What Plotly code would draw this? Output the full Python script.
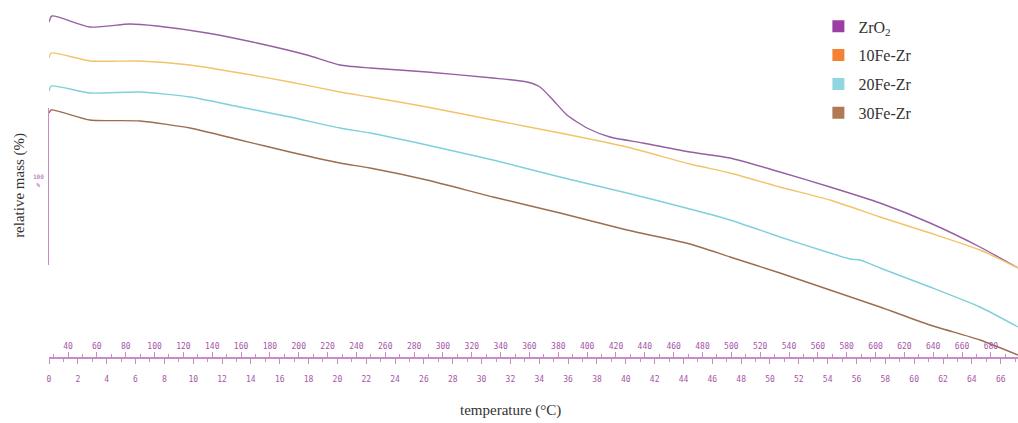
import plotly.graph_objects as go

# ---------------- data (time in min, relative mass in offset % units) ----------------
t_zro2 = [0, 0.2, 2.84, 5.62, 7.49, 10.96, 14.42, 17.89, 20.18, 22.26, 26.21, 30.79, 33.15,
          34.05, 34.95, 35.92, 37.31, 38.90, 41.19, 44.45, 47.23, 50.69, 54.16, 57.63, 61.10, 64.56, 67.2]
m_zro2 = [33.5, 34.1, 33.0, 33.3, 33.1, 32.4, 31.4, 30.2, 29.2, 28.9, 28.5, 27.9, 27.5,
          27.0, 25.7, 24.2, 22.9, 22.0, 21.4, 20.5, 19.9, 18.5, 17.0, 15.4, 13.4, 11.0, 8.9]

t_10fe = [0, 0.15, 2.84, 6.31, 9.78, 13.25, 16.71, 20.18, 22.26, 26.21, 30.79, 35.44, 40.08,
          44.45, 47.23, 50.69, 54.16, 57.63, 61.10, 64.56, 67.2]
m_10fe = [29.9, 30.4, 29.6, 29.6, 29.2, 28.4, 27.5, 26.5, 26.0, 25.0, 23.7, 22.4, 21.0,
          19.3, 18.4, 17.0, 15.7, 14.0, 12.4, 10.7, 8.9]

t_20fe = [0, 0.15, 2.84, 6.31, 9.78, 13.25, 16.71, 20.18, 22.26, 26.21, 30.79, 35.44, 40.08,
          44.45, 47.23, 50.69, 54.16, 55.55, 56.24, 57.63, 61.10, 64.56, 67.2]
m_20fe = [26.6, 27.1, 26.4, 26.5, 26.0, 25.0, 24.0, 22.9, 22.4, 21.2, 19.7, 18.0, 16.4,
          14.8, 13.7, 12.0, 10.4, 9.8, 9.7, 8.9, 7.0, 5.0, 3.0]

t_30fe = [0, 0.15, 2.84, 6.31, 9.78, 13.25, 16.71, 20.18, 22.26, 26.21, 30.79, 35.44, 40.08,
          44.45, 47.23, 50.69, 54.16, 57.63, 61.10, 64.56, 67.2]
m_30fe = [24.4, 24.7, 23.7, 23.6, 22.9, 21.7, 20.5, 19.4, 18.9, 17.7, 16.0, 14.4, 12.7,
          11.3, 10.0, 8.4, 6.7, 5.0, 3.2, 1.7, 0.2]

names = ["ZrO<sub>2</sub>", "10Fe-Zr", "20Fe-Zr", "30Fe-Zr"]
line_colors = ["#9560a3", "#f2c46a", "#7fd0da", "#9c6d50"]
legend_colors = ["#9b3fa2", "#f58233", "#92d5e2", "#b07a52"]

time_ticks = list(range(0, 67, 2))
temp_ticks = list(range(40, 681, 20))
T0 = 26.8       # °C at t = 0
RATE = 10.0     # °C / min
T_MAX = 67.2    # min shown

series = [(t_zro2, m_zro2), (t_10fe, m_10fe), (t_20fe, m_20fe), (t_30fe, m_30fe)]

fig = go.Figure()
# helper traces so that the temperature axis and scale bar axis are drawn
fig.add_trace(go.Scatter(x=[None], y=[None], xaxis="x", yaxis="y2", showlegend=False))
fig.add_trace(go.Scatter(x=[None], y=[None], xaxis="x2", yaxis="y", showlegend=False))
for (tx, my), c in zip(series, line_colors):
    fig.add_trace(go.Scatter(x=tx, y=my, mode="lines", line=dict(color=c, width=1.4, shape="spline", smoothing=0.6),
                             showlegend=False, hoverinfo="skip"))
for i, (n, c) in enumerate(zip(names, legend_colors)):
    fig.add_trace(go.Scatter(x=[None], y=[None], mode="markers", name=n, legendgroup=str(i),
                             marker=dict(symbol="square", size=12, color=c)))

axis_col = "#c98cc4"
lab_col = "#a555a8"
tick_font = dict(family="DejaVu Sans Mono", size=8, color=lab_col)

fig.update_layout(
    width=1018, height=423,
    margin=dict(l=49, r=0, t=8, b=66),
    paper_bgcolor="white", plot_bgcolor="rgba(0,0,0,0)",
    showlegend=True,
    legend=dict(x=0.794, y=0.996, xanchor="left", yanchor="top", tracegroupgap=5,
                font=dict(family="Liberation Serif", size=16, color="#333333"),
                bgcolor="rgba(0,0,0,0)"),
    xaxis=dict(range=[0, T_MAX], tickvals=time_ticks, ticks="outside", ticklen=5, tickcolor=axis_col,
               showline=True, linecolor=axis_col, linewidth=1.5, showgrid=False, zeroline=False,
               tickfont=tick_font, ticklabelstandoff=9, automargin=False,
               minor=dict(dtick=1, ticks="outside", ticklen=3, tickcolor=axis_col)),
    xaxis2=dict(overlaying="x", side="bottom", anchor="y",
                range=[T0, T0 + RATE * T_MAX], tickvals=temp_ticks, ticks="inside", ticklen=5,
                tickcolor=axis_col, ticklabelposition="inside", showline=False, showgrid=False,
                zeroline=False, tickfont=tick_font, automargin=False,
                minor=dict(dtick=10, ticks="inside", ticklen=3, tickcolor=axis_col)),
    yaxis=dict(range=[0, 34.9], visible=False, automargin=False),
    yaxis2=dict(domain=[0.264, 0.713], anchor="x", range=[0, 1], tickvals=[0, 1], ticks="inside",
                ticklen=4, tickcolor=axis_col, showline=True, linecolor=axis_col, linewidth=1.2,
                showticklabels=False, showgrid=False, zeroline=False, automargin=False),
    annotations=[
        dict(text="relative mass (%)", xref="paper", yref="paper", x=-0.030, y=0.493,
             xanchor="center", yanchor="middle",
             textangle=-90, showarrow=False, font=dict(family="Liberation Serif", size=15, color="#333333")),
        dict(text="temperature (°C)", xref="paper", yref="paper", x=0.476, y=-0.152,
             xanchor="center", yanchor="middle",
             showarrow=False, font=dict(family="Liberation Serif", size=15, color="#333333")),
        dict(text="100<br>%", xref="paper", yref="paper", x=-0.011, y=0.507,
             xanchor="center", yanchor="middle",
             showarrow=False, font=dict(family="DejaVu Sans Mono", size=6, color=lab_col)),
    ],
)

fig.write_html("out.html", config={"displayModeBar": False},
               post_script="document.body.style.margin='0';document.body.style.overflow='hidden';")
